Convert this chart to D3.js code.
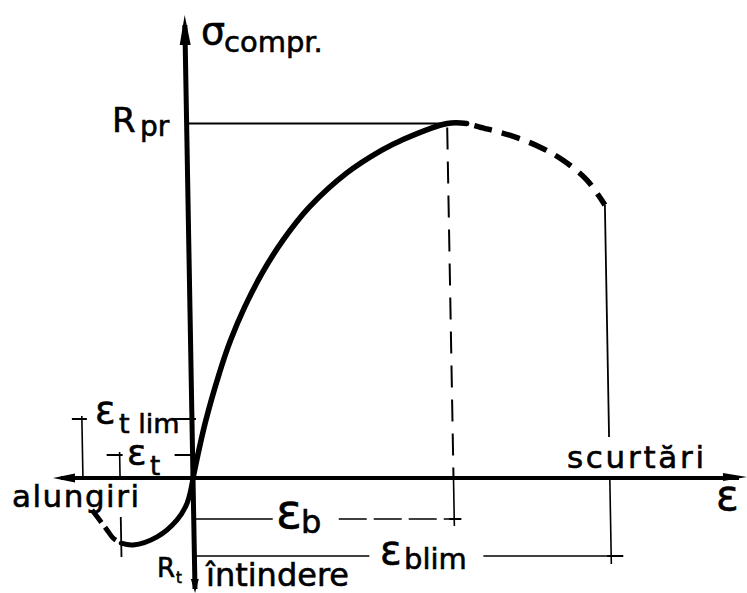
<!DOCTYPE html>
<html>
<head>
<meta charset="utf-8">
<script src="https://cdn.jsdelivr.net/npm/d3@7"></script>
<style>
  html, body { margin: 0; padding: 0; background: #fff; }
  svg { display: block; }
  text { font-family: "DejaVu Sans", sans-serif; fill: #000; stroke: #000; stroke-width: 0.6px; }
</style>
</head>
<body>
<svg id="chart" width="747" height="593"></svg>
<script>
// Stress-strain diagram of concrete: ε in ‰, σ as a fraction of R_pr.

// ascending compression branch (solid)
const compEps   = [0, 0.101, 0.217, 0.308, 0.420, 0.559, 0.724, 0.930, 1.221, 1.495, 1.648, 2.0, 2.15];
const compSigma = [0, 0.155, 0.296, 0.389, 0.482, 0.578, 0.671, 0.764, 0.860, 0.925, 0.953, 1.0, 1.0];
// descending compression branch (dashed)
const softEps   = [2.15, 2.25, 2.478, 2.707, 2.882, 3.064, 3.2];
const softSigma = [1.0, 0.99, 0.967, 0.934, 0.897, 0.841, 0.77];
// tension branch (solid, then dashed)
const tensEps       = [0, -0.049, -0.128, -0.284, -0.469, -0.56];
const tensSigma     = [0, -0.071, -0.118, -0.166, -0.189, -0.184];
const tensSoftEps   = [-0.56, -0.62, -0.67, -0.72, -0.78];
const tensSoftSigma = [-0.184, -0.17, -0.145, -0.12, -0.09];
// characteristic strains and strengths
const epsB = 2.0, epsBlim = 3.2, epsT = -0.56, epsTlim = -0.845;
const Rpr = 1.0;

const svg = d3.select("#chart");

const x = d3.scaleLinear().domain([0, epsB]).range([193, 453.5]);
const y = d3.scaleLinear().domain([0, Rpr]).range([478, 123.5]);
const x0 = x(0), y0 = y(0);

// the drawing is slightly sheared, like a hand-drawn plate
const g = svg.append("g")
  .attr("transform", `translate(${x0},${y0}) skewX(1.03) translate(${-x0},${-y0})`);

const line = d3.line().x(d => x(d[0])).y(d => y(d[1])).curve(d3.curveCatmullRom.alpha(0.5));
const zip = (a, b) => a.map((v, i) => [v, b[i]]);

function seg(x1, y1, x2, y2, w, dash) {
  const l = g.append("line").attr("x1", x1).attr("y1", y1).attr("x2", x2).attr("y2", y2)
    .attr("stroke", "#000").attr("stroke-width", w);
  if (dash) l.attr("stroke-dasharray", dash);
  return l;
}
function tri(pts) {
  g.append("path").attr("d", "M" + pts.map(p => p.join(",")).join("L") + "Z").attr("fill", "#000");
}

// ---- axes ----
const axTop = 15, axBottom = 593, axLeft = 53, axRight = 747;
seg(x0, axTop + 10, x0, axBottom - 4, 5);
seg(axLeft + 8, y0, axRight - 8, y0, 4);
tri([[x0, axTop], [x0 - 5.5, axTop + 30], [x0 + 5.5, axTop + 30]]);
tri([[x0, axBottom], [x0 - 4, axBottom - 14], [x0 + 4, axBottom - 14]]);
tri([[axLeft, y0], [axLeft + 22, y0 - 4.5], [axLeft + 22, y0 + 4.5]]);
tri([[axRight, y0 - 1], [axRight - 24, y0 - 5], [axRight - 24, y0 + 3]]);

// ---- reference lines ----
// R_pr level
seg(x0, y(Rpr), x(epsB), y(Rpr), 1.8);
// ε_b vertical
seg(x(epsB), y(Rpr) + 4, x(epsB), y0, 2, "22,12");
seg(x(epsB), y0, x(epsB), 526, 1.6);
// ε_b lim vertical
const lastSoft = softSigma[softSigma.length - 1];
seg(x(epsBlim), y(lastSoft), x(epsBlim), 437, 1.8);
seg(x(epsBlim), y0, x(epsBlim), 564, 1.6);

// dimension line ε_b
const yDb = 519;
seg(x0, yDb, 272, yDb, 1.6);
seg(338, yDb, x(epsB) + 7, yDb, 1.6, "28,7");
seg(x(epsB) - 5, yDb, x(epsB) + 7, yDb, 2.2);
// dimension line ε_b lim
const yDbl = 556;
seg(x0, yDbl, 368, yDbl, 1.6);
seg(482, yDbl, x(epsBlim) + 12, yDbl, 1.6);
seg(x(epsBlim) - 4, yDbl, x(epsBlim) + 12, yDbl, 2.2);

// ε_t lim marker
const yTl = 419;
seg(x(epsTlim), yTl - 3, x(epsTlim), y0, 1.6);
seg(x(epsTlim) - 10, yTl, x(epsTlim) + 5, yTl, 2);
seg(174, yTl, x0 + 4, yTl, 1.8);
// ε_t marker
const yT = 455;
seg(x(epsT), yT - 3, x(epsT), y0, 1.6);
seg(x(epsT) - 13, yT, x(epsT) + 3, yT, 2);
seg(175, yT, x0 + 3, yT, 1.8);
seg(x(epsT), 517, x(epsT), 557, 1.8);

// ---- curves ----
g.append("path").attr("d", line(zip(compEps, compSigma)))
  .attr("fill", "none").attr("stroke", "#000").attr("stroke-width", 5.5).attr("stroke-linecap", "round");
g.append("path").attr("d", line(zip(softEps, softSigma)))
  .attr("fill", "none").attr("stroke", "#000").attr("stroke-width", 5.5)
  .attr("stroke-dasharray", "0,8,18,10,19,10,19,10,19,10,18,10,30");
g.append("path").attr("d", line(zip(tensEps, tensSigma)))
  .attr("fill", "none").attr("stroke", "#000").attr("stroke-width", 5).attr("stroke-linecap", "round");
g.append("path").attr("d", line(zip(tensSoftEps, tensSoftSigma)))
  .attr("fill", "none").attr("stroke", "#000").attr("stroke-width", 5)
  .attr("stroke-dasharray", "0,6,17,6,20");

// ---- labels ----
function txt(s, px, py, fs, extra) {
  const t = svg.append("text").attr("x", px).attr("y", py).attr("font-size", fs).text(s);
  if (extra) Object.entries(extra).forEach(([k, v]) => t.attr(k, v));
  return t;
}
txt("σ", 201, 44, 38);
txt("compr.", 224, 52, 29);
txt("R", 112, 132, 34);
txt("pr", 140, 136, 28);
txt("ε", 95, 423, 38);
txt("t lim", 119, 433, 27);
txt("ε", 127, 465, 36);
txt("t", 150, 475, 26);
txt("alungiri", 12, 507, 31, { "letter-spacing": 1.5 });
txt("scurtări", 567, 468, 31, { "letter-spacing": 2.7 });
txt("ε", 716, 510, 42);
txt("ε", 276, 528, 48);
txt("b", 301, 533, 32);
txt("ε", 380, 564, 40);
txt("blim", 404, 569, 29);
txt("R", 157, 577, 26);
txt("t", 176, 583, 15);
txt("întindere", 206, 586, 32);
</script>
</body>
</html>
